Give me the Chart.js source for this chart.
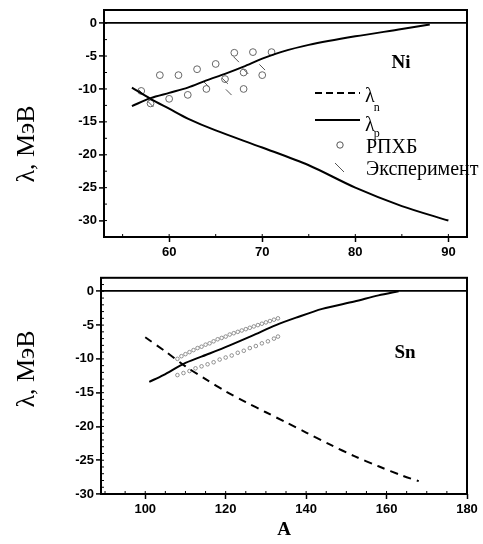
<!DOCTYPE html>
<html lang="ru">
<head>
<meta charset="UTF-8">
<title>Химические потенциалы Ni и Sn</title>
<script src="https://cdn.jsdelivr.net/npm/chart.js"></script>
<style>
  body { margin: 0; background: #fff; }
  canvas { position: absolute; left: 0; }
  #niChart { top: 0; }
  #snChart { top: 268px; }
</style>
</head>
<body>
<canvas id="niChart" width="483" height="268"></canvas>
<canvas id="snChart" width="483" height="276"></canvas>
<script>
// --- Ni ---
const niA_n = [56, 58, 60, 62, 64, 66, 68, 70, 72, 75, 80, 85, 88];
const niLambdaN = [-12.6, -11.4, -10.6, -9.8, -8.7, -7.7, -6.6, -5.4, -4.4, -3.3, -2.0, -0.9, -0.2];
const niA_p = [56, 58, 60, 62, 65, 70, 75, 80, 85, 90];
const niLambdaP = [-9.8, -11.5, -13.0, -14.5, -16.3, -18.9, -21.6, -25.0, -27.8, -30.0];
const niHfbA = [57, 58, 59, 60, 61, 62, 63, 64, 65, 66, 67, 68, 68, 69, 70, 71];
const niHfb = [-10.3, -12.2, -7.9, -11.5, -7.9, -10.9, -7.0, -10.0, -6.2, -8.5, -4.5, -7.5, -10.0, -4.4, -7.9, -4.4];
const niExpA = [57, 58, 64, 66, 66.4, 67.2, 68.2, 70];
const niExp = [-10.5, -12.3, -9.3, -8.8, -10.5, -5.5, -7.3, -6.7];
const niTicksX = [60, 70, 80, 90];
const niTicksY = [0, -5, -10, -15, -20, -25, -30];

// --- Sn ---
const snA_n = [101, 104.5, 110, 116, 121, 126.5, 132.5, 137.5, 144, 152, 158, 163];
const snLambdaN = [-13.4, -12.4, -10.6, -9.2, -8.0, -6.6, -5.0, -3.9, -2.6, -1.5, -0.6, 0];
const snA_p = [100, 105, 110, 115, 120, 125, 130, 135, 140, 146, 152, 158, 164, 168];
const snLambdaP = [-6.8, -8.9, -11.1, -13.0, -14.8, -16.4, -17.9, -19.4, -20.9, -22.7, -24.4, -25.9, -27.3, -28.1];
const snHfbA = [108, 109, 110, 111, 112, 113, 114, 115, 116, 117, 118, 119, 120, 121, 122, 123, 124, 125, 126, 127, 128, 129, 130, 131, 132, 133,
                108, 109.5, 111, 112.5, 114, 115.5, 117, 118.5, 120, 121.5, 123, 124.5, 126, 127.5, 129, 130.5, 132, 133];
const snHfb = [-10.0, -9.6, -9.3, -9.0, -8.7, -8.4, -8.2, -7.9, -7.7, -7.4, -7.1, -6.9, -6.7, -6.4, -6.2, -6.0, -5.8, -5.6, -5.4, -5.2, -5.0, -4.8, -4.6, -4.4, -4.2, -4.0,
               -12.4, -12.1, -11.8, -11.4, -11.1, -10.8, -10.5, -10.1, -9.8, -9.5, -9.1, -8.8, -8.4, -8.1, -7.7, -7.4, -7.0, -6.7];
const snTicksX = [100, 120, 140, 160, 180];
const snTicksY = [0, -5, -10, -15, -20, -25, -30];

const pts = (xs, ys) => xs.map((x, i) => ({ x: x, y: ys[i] }));

const tickFont = { family: 'Liberation Sans', size: 13, weight: 'bold' };

function axes(xmin, xmax, xt, ymin, ymax, yt, yWidth, xHeight, xTitle) {
  return {
    x: {
      type: 'linear', min: xmin, max: xmax,
      afterBuildTicks: s => { s.ticks = xt.map(v => ({ value: v })); },
      afterFit: s => { s.height = xHeight; },
      grid: { drawOnChartArea: false, tickColor: '#000', tickLength: 5, tickWidth: 1.5 },
      border: { display: false },
      ticks: { color: '#000', font: tickFont, padding: 3, autoSkip: false, maxRotation: 0 },
      title: xTitle ? { display: true, text: xTitle, color: '#000',
                        font: { family: 'Liberation Serif', size: 19, weight: 'bold' },
                        padding: { top: 0, bottom: 3 } } : { display: false }
    },
    y: {
      type: 'linear', min: ymin, max: ymax,
      afterBuildTicks: s => { s.ticks = yt.map(v => ({ value: v })); },
      afterFit: s => { s.width = yWidth; },
      grid: {
        color: c => (c.tick && c.tick.value === 0 ? '#000' : 'rgba(0,0,0,0)'),
        lineWidth: 1.8, tickColor: '#000', tickLength: 5, tickWidth: 1.5
      },
      border: { display: false },
      ticks: { color: '#000', font: tickFont, padding: 2, autoSkip: false }
    }
  };
}

// frame, minor ticks, axis title and element label
const decor = {
  id: 'decor',
  afterDatasetsDraw(chart, args, o) {
    const { ctx, chartArea: a, scales: { x, y } } = chart;
    ctx.save();
    ctx.strokeStyle = '#000';
    ctx.lineWidth = 2;
    ctx.strokeRect(a.left, a.top, a.right - a.left, a.bottom - a.top);

    ctx.lineWidth = 1;
    ctx.beginPath();
    for (let i = Math.ceil(x.min / o.minorX); i * o.minorX <= x.max; i++) {
      const px = x.getPixelForValue(i * o.minorX);
      ctx.moveTo(px, a.bottom); ctx.lineTo(px, a.bottom - 3);
    }
    for (let i = Math.ceil(y.min / o.minorY); i * o.minorY <= y.max; i++) {
      const py = y.getPixelForValue(i * o.minorY);
      ctx.moveTo(a.left, py); ctx.lineTo(a.left + 3, py);
    }
    ctx.stroke();

    ctx.fillStyle = '#000';
    ctx.font = '26px "Liberation Serif"';
    ctx.textAlign = 'center';
    ctx.textBaseline = 'middle';
    ctx.save();
    ctx.translate(o.yTitle[0], o.yTitle[1]);
    ctx.rotate(-Math.PI / 2);
    ctx.fillText('λ, МэВ', 0, 0);
    ctx.restore();

    ctx.font = 'bold 19px "Liberation Serif"';
    ctx.fillText(o.label, o.labelAt[0], o.labelAt[1]);
    ctx.restore();
  }
};

// legend of the Ni panel (with subscripts)
const niLegend = {
  id: 'niLegend',
  afterDatasetsDraw(chart) {
    const ctx = chart.ctx;
    ctx.save();
    ctx.strokeStyle = '#000';
    ctx.fillStyle = '#000';
    ctx.lineWidth = 2;
    ctx.setLineDash([7, 4]);
    ctx.beginPath(); ctx.moveTo(315, 93); ctx.lineTo(360, 93); ctx.stroke();
    ctx.setLineDash([]);
    ctx.beginPath(); ctx.moveTo(315, 120); ctx.lineTo(360, 120); ctx.stroke();

    ctx.lineWidth = 1;
    ctx.strokeStyle = '#555';
    ctx.beginPath(); ctx.arc(340, 145, 3.2, 0, Math.PI * 2); ctx.stroke();
    ctx.beginPath(); ctx.moveTo(335, 163); ctx.lineTo(344, 172); ctx.stroke();

    ctx.textAlign = 'left';
    ctx.textBaseline = 'alphabetic';
    ctx.font = '20px "Liberation Serif"';
    const lw = ctx.measureText('λ').width;
    ctx.fillText('λ', 365, 102);
    ctx.fillText('λ', 365, 131);
    ctx.fillText('РПХБ', 366, 153);
    ctx.fillText('Эксперимент', 366, 175);
    ctx.font = '12px "Liberation Serif"';
    ctx.fillText('n', 365 + lw - 1, 111);
    ctx.fillText('p', 365 + lw - 1, 137);
    ctx.restore();
  }
};

const lineSet = (label, data, dash) => ({
  label: label, data: data, showLine: true, borderColor: '#000', borderWidth: 2,
  borderDash: dash || [], pointRadius: 0, fill: false, tension: 0.3
});

new Chart(document.getElementById('niChart'), {
  type: 'scatter',
  data: {
    datasets: [
      lineSet('λn', pts(niA_n, niLambdaN)),
      lineSet('λp', pts(niA_p, niLambdaP)),
      { label: 'РПХБ', data: pts(niHfbA, niHfb), pointStyle: 'circle', pointRadius: 3.4,
        borderColor: '#666', borderWidth: 1, backgroundColor: 'rgba(0,0,0,0)' },
      { label: 'Эксперимент', data: pts(niExpA, niExp), pointStyle: 'line', rotation: 45,
        pointRadius: 4, borderColor: '#555', borderWidth: 1 }
    ]
  },
  options: {
    responsive: false, animation: false,
    layout: { padding: { left: 0, top: 10, right: 16, bottom: 0 } },
    scales: axes(53, 92, niTicksX, -32.5, 2, niTicksY, 104, 31, null),
    plugins: {
      legend: { display: false }, tooltip: { enabled: false },
      decor: { minorX: 5, minorY: 2.5, yTitle: [27, 144], label: 'Ni', labelAt: [401, 63] }
    }
  },
  plugins: [decor, niLegend]
});

new Chart(document.getElementById('snChart'), {
  type: 'scatter',
  data: {
    datasets: [
      lineSet('λn', pts(snA_n, snLambdaN)),
      lineSet('λp', pts(snA_p, snLambdaP), [8, 6]),
      { label: 'РПХБ', data: pts(snHfbA, snHfb), pointStyle: 'circle', pointRadius: 1.8,
        borderColor: '#777', borderWidth: 0.8, backgroundColor: 'rgba(0,0,0,0)' }
    ]
  },
  options: {
    responsive: false, animation: false,
    layout: { padding: { left: 0, top: 5, right: 16, bottom: 0 } },
    scales: axes(89, 180, snTicksX, -30, 2, snTicksY, 101, 50, 'A'),
    plugins: {
      legend: { display: false }, tooltip: { enabled: false },
      decor: { minorX: 5, minorY: 1, yTitle: [27, 101], label: 'Sn', labelAt: [405, 85] }
    }
  },
  plugins: [decor]
});
</script>
</body>
</html>
